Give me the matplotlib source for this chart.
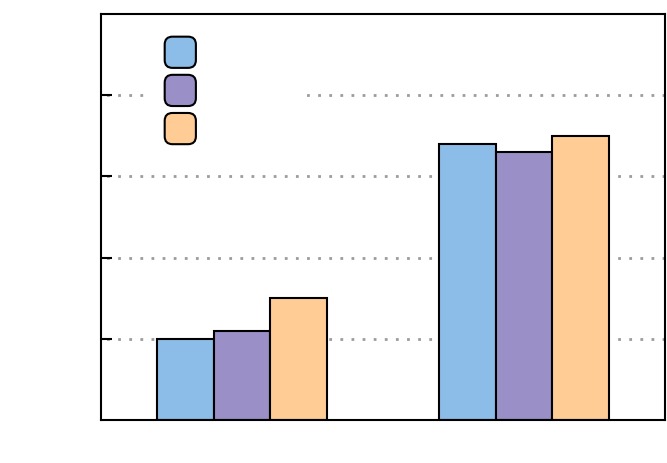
import numpy as np
import matplotlib
matplotlib.use("Agg")
import matplotlib.pyplot as plt
from matplotlib.patches import FancyBboxPatch, Patch
from matplotlib.legend_handler import HandlerPatch

groups = ["Group 1", "Group 2"]
series = ["Category A", "Category B", "Category C"]
values_a = [1.0, 3.4]
values_b = [1.1, 3.3]
values_c = [1.5, 3.5]
colors = ["#8bbde8", "#9a90c7", "#ffcc96"]
yticks = [1, 2, 3, 4]


class HandlerRound(HandlerPatch):
    # square legend handle with rounded corners
    def create_artists(self, legend, orig_handle, xdescent, ydescent,
                       width, height, fontsize, trans):
        s = min(width, height)
        p = FancyBboxPatch((-xdescent + (width - s) / 2, -ydescent + (height - s) / 2), s, s,
                           boxstyle="round,pad=0,rounding_size=%f" % (s * 0.25),
                           facecolor=orig_handle.get_facecolor(),
                           edgecolor="black", linewidth=1.5, transform=trans)
        return [p]


fig = plt.figure(figsize=(6.67, 4.63), dpi=100)
ax = fig.add_axes([101 / 667, 43 / 463, 564 / 667, 406 / 463])

x = np.arange(len(groups))
w = 0.2
for i, (vals, c) in enumerate(zip([values_a, values_b, values_c], colors)):
    ax.bar(x + (i - 1) * w, vals, w, color=c, edgecolor="black",
           linewidth=1.5, zorder=2)

ax.set_xlim(-0.5, 1.5)
ax.set_ylim(0, 5)
ax.set_yticks(yticks)
ax.set_xticks([])
for yv in yticks:
    ax.axhline(yv, linestyle=(2, (1, 3)), color="#9c9c9c", linewidth=2, zorder=1)
ax.tick_params(axis="y", direction="in", length=8, width=1.5, labelcolor="white")
for sp in ax.spines.values():
    sp.set_linewidth(1.5)

handles = [Patch(facecolor=c, edgecolor="black", label=s) for c, s in zip(colors, series)]
leg = ax.legend(handles=handles, handler_map={Patch: HandlerRound()},
                loc="upper left", bbox_to_anchor=(148 / 667, 1 - 20 / 463),
                bbox_transform=fig.transFigure, frameon=True,
                fancybox=False, edgecolor="white", facecolor="white",
                framealpha=1, handlelength=2.25, handleheight=3.08,
                labelspacing=0.5, fontsize=10, borderpad=1.2,
                borderaxespad=0, handletextpad=0.8)
for t in leg.get_texts():
    t.set_color("white")

fig.savefig("out.png", dpi=100)
